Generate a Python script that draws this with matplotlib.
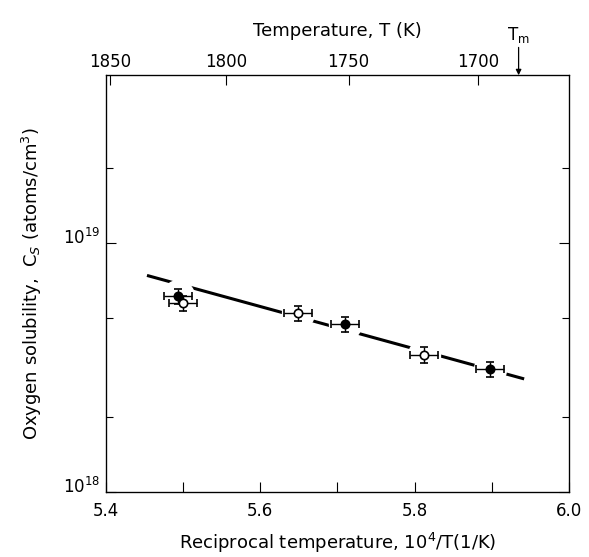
import numpy as np
import matplotlib
matplotlib.use("Agg")
import matplotlib.pyplot as plt
import matplotlib.transforms as mtransforms
from matplotlib.ticker import FixedLocator, NullFormatter

# data
filled_x = [5.493, 5.71, 5.898]
filled_c = [6.1e18, 4.7e18, 3.1e18]
open_x = [5.50, 5.649, 5.812]
open_c = [5.7e18, 5.2e18, 3.55e18]
xerr = 0.018
yerr_frac = 0.07

fit_x = [5.455, 5.94]
fit_c = [7.36e18, 2.85e18]

top_temps = [1850, 1800, 1750, 1700]
t_melt = 1685

fig = plt.figure(figsize=(5.89, 5.57), dpi=100)
ax = fig.add_axes([0.18, 0.117, 0.786, 0.748])

ax.set_yscale("log")
ax.set_xlim(5.4, 6.0)
ax.set_ylim(1e18, 4.7e19)

# fitted line, interrupted around the points
ax.plot(fit_x, fit_c, color="black", lw=2.2, zorder=1)
all_x = filled_x + open_x
all_c = filled_c + open_c
ax.plot(all_x, all_c, "o", ms=24, color="white", mec="none", zorder=2)

for xs, cs, face in [(filled_x, filled_c, "black"), (open_x, open_c, "white")]:
    cs = np.array(cs)
    ax.errorbar(xs, cs, xerr=xerr, yerr=[cs * yerr_frac, cs * yerr_frac],
                fmt="o", ms=6, mfc=face, mec="black", mew=1.2, ecolor="black",
                elinewidth=1.0, capsize=3, capthick=1.0, zorder=3)

ax.xaxis.set_major_locator(FixedLocator([5.4, 5.5, 5.6, 5.7, 5.8, 5.9, 6.0]))
ax.set_xticklabels(["5.4", "", "5.6", "", "5.8", "", "6.0"])
ax.yaxis.set_major_locator(FixedLocator([1e18, 1e19]))
ax.yaxis.set_minor_locator(FixedLocator([2e18, 5e18, 2e19]))
ax.yaxis.set_minor_formatter(NullFormatter())
ax.tick_params(which="both", direction="in", right=True, labelsize=12)
ax.tick_params(which="major", length=7, width=0.8)
ax.tick_params(which="minor", length=5, width=0.8)
ax.tick_params(axis="x", pad=7)
ax.tick_params(axis="y", pad=4)

# nudge the y tick labels up a little, like the original
shift = mtransforms.ScaledTranslation(0, 5 / 72, fig.dpi_scale_trans)
for lab in ax.get_yticklabels():
    lab.set_transform(lab.get_transform() + shift)

for s in ax.spines.values():
    s.set_linewidth(0.9)

ax.set_xlabel("Reciprocal temperature, 10$^4$/T(1/K)", fontsize=13, labelpad=8)
ax.set_ylabel("Oxygen solubility,  C$_S$ (atoms/cm$^3$)", fontsize=13, labelpad=14)

# top temperature axis
top = ax.twiny()
top.set_xlim(ax.get_xlim())
top.set_xticks([1e4 / t for t in top_temps])
top.set_xticklabels([str(t) for t in top_temps])
top.tick_params(direction="in", length=7, width=0.8, labelsize=12, pad=3)
top.set_xlabel("Temperature, T (K)", fontsize=13, labelpad=12)

xm = 1e4 / t_melt
ax.annotate("T$_\\mathrm{m}$", xy=(xm, 4.7e19), xytext=(0, 22),
            textcoords="offset points",
            ha="center", va="bottom", fontsize=12, annotation_clip=False,
            arrowprops=dict(arrowstyle="-|>", color="black", lw=0.9,
                            mutation_scale=8, shrinkA=0, shrinkB=0))

fig.savefig("out.png", dpi=100)
